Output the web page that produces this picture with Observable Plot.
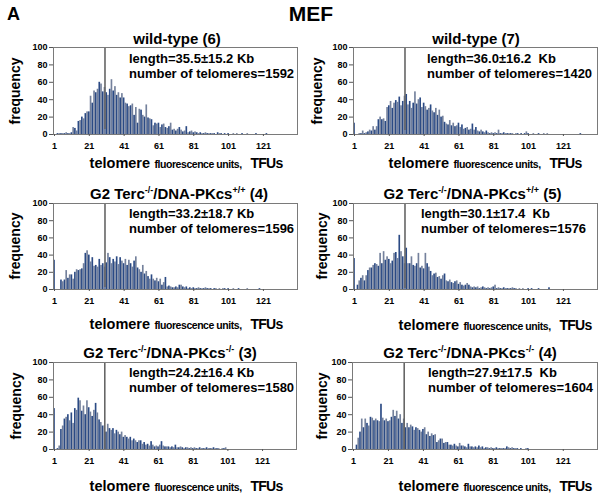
<!DOCTYPE html>
<html><head><meta charset="utf-8">
<script src="https://cdn.jsdelivr.net/npm/d3@7"></script>
<script src="https://cdn.jsdelivr.net/npm/@observablehq/plot@0.6"></script>
<style>
body{margin:0;background:#fff;}
#fig{position:relative;width:603px;height:498px;font-family:"Liberation Sans",Arial,sans-serif;font-weight:bold;color:#000;overflow:hidden;background:#fff}
.t{position:absolute;white-space:pre;line-height:1}
sup{font-size:9px;vertical-align:6px;line-height:0}
</style></head><body><div id="fig"></div><script>
// ---- data ----
const xTickLabels = [1, 21, 41, 61, 81, 101, 121];
const yTickLabels = [0, 20, 40, 60, 80, 100];
const meanTFU = [30, 30, 30, 30, 30, 30];
const panelTitles = [
  "wild-type (6)",
  "wild-type (7)",
  "G2 Terc<sup>-/-</sup>/DNA-PKcs<sup>+/+</sup> (4)",
  "G2 Terc<sup>-/-</sup>/DNA-PKcs<sup>+/+</sup> (5)",
  "G2 Terc<sup>-/-</sup>/DNA-PKcs<sup>-/-</sup> (3)",
  "G2 Terc<sup>-/-</sup>/DNA-PKcs<sup>-/-</sup> (4)"
];
const lengthText = ["35.5±15.2 Kb", "36.0±16.2  Kb", "33.2±18.7 Kb", "30.1±17.4  Kb", "24.2±16.4 Kb", "27.9±17.5  Kb"];
const telomereCounts = [1592, 1420, 1596, 1576, 1580, 1604];

const wt6 = [
  0,0,1,1,1,1,1,2,1,1,
  2,8,7,4,15,16,20,18,24,26,
  26,44,36,50,48,52,60,58,49,54,
  48,45,52,63,50,55,45,48,42,47,
  42,36,35,32,33,35,22,31,13,29,
  28,22,20,34,19,18,17,10,13,12,
  13,8,11,12,8,7,9,13,5,6,
  4,6,8,5,3,4,9,2,3,4,
  2,3,2,1,2,1,1,2,1,1,
  1,1,1,0,2,1,1,0,1,0,
  1,0,0,1,0,1,0,0,1,0,
  0,1,0,0,0,0,1,0,0,0,
  0,0,1,0,0,0,0,0,0,0,
  0,0,0,0,0,0,0,0,0,0];
const wt7 = [
  13,0,0,1,1,4,1,2,3,5,
  4,9,5,9,17,20,17,18,15,31,
  33,38,30,36,39,37,43,33,38,44,
  46,34,38,30,36,49,35,40,42,31,
  36,32,28,30,34,27,25,30,22,28,
  20,21,14,12,11,16,10,13,9,10,
  13,8,11,6,7,8,5,6,12,5,
  8,4,3,5,3,2,4,2,1,2,
  1,2,1,5,1,1,2,1,1,1,
  1,1,0,1,1,0,1,0,1,3,
  1,0,0,1,0,0,1,0,0,1,
  0,1,0,0,0,0,0,0,0,0,
  0,0,0,0,0,0,0,0,0,0,
  1,0,0,0,0,0,0,0,0,0];
const g2pp4 = [
  34,0,0,0,11,9,11,22,13,17,
  17,12,20,23,22,23,24,30,42,45,
  40,32,37,27,28,26,35,28,30,26,
  31,42,37,30,35,32,38,29,37,33,
  30,35,28,34,30,26,33,38,25,23,
  20,28,18,21,15,12,17,12,10,13,
  9,12,5,8,14,3,4,3,2,2,
  3,2,5,5,3,2,3,1,2,1,
  2,1,1,2,1,1,1,2,1,1,
  1,0,1,1,0,1,0,1,1,0,
  1,0,0,1,0,0,1,0,0,0,
  0,1,0,0,0,0,0,0,1,0,
  0,0,0,0,0,0,0,0,0,0,
  0,0,0,0,0,0,0,0,0,0];
const g2pp5 = [
  36,0,5,10,13,16,10,16,22,25,
  25,28,30,29,27,42,30,44,34,38,
  35,30,33,42,43,36,63,44,38,30,
  48,30,30,38,28,27,30,42,25,27,
  24,42,30,26,21,16,18,19,14,15,
  12,16,18,10,9,11,8,7,9,10,
  6,8,5,4,5,7,5,3,2,3,
  2,3,1,2,3,2,1,2,1,2,
  3,5,1,2,1,1,2,1,1,1,
  1,2,1,1,0,1,0,1,0,0,
  1,0,1,0,0,0,1,0,0,0,
  0,0,2,0,0,0,0,0,0,0,
  0,0,0,0,0,0,0,0,0,0,
  0,0,0,0,0,0,0,0,0,0];
const g2mm3 = [
  47,0,1,4,23,27,35,37,40,33,
  42,30,47,45,59,56,44,50,40,56,
  48,43,38,45,53,42,34,31,27,27,
  20,29,24,22,24,18,22,20,17,20,
  14,16,14,12,14,10,12,10,8,10,
  10,6,8,5,6,4,9,5,3,4,
  3,5,9,4,3,3,3,2,3,2,
  5,2,2,3,2,1,2,2,1,2,
  1,2,1,1,2,1,1,1,2,1,
  1,1,2,1,1,1,0,1,1,2,
  0,0,0,0,0,0,0,0,0,0,
  0,0,0,0,0,0,0,0,0,0,
  0,0,0,0,0,0,0,0,0,0,
  0,0,0,0,0,0,0,0,0,0];
const g2mm4 = [
  0,0,5,13,20,35,25,35,30,27,
  37,36,33,35,33,32,52,36,33,35,
  32,33,37,45,38,44,35,40,30,35,
  25,30,25,28,26,22,25,24,22,20,
  23,25,17,20,15,18,16,17,8,10,
  12,12,7,8,8,5,5,4,6,4,
  3,7,4,4,3,2,6,3,3,2,
  3,2,4,2,3,1,2,2,1,2,
  1,1,2,1,1,1,1,1,3,2,
  1,2,1,1,1,0,1,0,0,1,
  1,0,0,0,0,0,0,0,0,0,
  0,0,0,0,0,0,0,0,0,0,
  0,0,0,0,0,0,0,0,0,0,
  0,0,0,0,0,0,0,0,0,0];
const seriesList = [wt6, wt7, g2pp4, g2pp5, g2mm3, g2mm4];

// ---- layout (positions only) ----
const layout = [
  {x:0,   w:300, fl:53,  fr:297, ft:47,  fb:134, over:5, tc:[177,37.5],  ax:129, ay:[57.5,72.5],  yl:15,  xl:[186,163]},
  {x:300, w:303, fl:353, fr:597, ft:47,  fb:134, over:4, tc:[476,37.5],  ax:427, ay:[57.5,72.5],  yl:317, xl:[485,162.5]},
  {x:0,   w:300, fl:53,  fr:297, ft:203, fb:289, over:2, tc:[179,192.5], ax:129, ay:[212.5,227.5], yl:15,  xl:[186,324]},
  {x:300, w:303, fl:353, fr:597, ft:203, fb:289, over:1, tc:[472.5,192.5], ax:421, ay:[212.5,227.5], yl:322, xl:[495,325]},
  {x:0,   w:300, fl:53,  fr:296, ft:362, fb:449, over:0, tc:[170,352],   ax:129, ay:[372,387],    yl:15.5, xl:[186,486]},
  {x:300, w:303, fl:352, fr:597, ft:362, fb:449, over:0, tc:[470,352],   ax:428, ay:[372,387],    yl:322, xl:[495,486]}
];

const fig = document.getElementById("fig");
function addText(html, css) {
  const el = document.createElement("div");
  el.className = "t";
  el.innerHTML = html;
  Object.assign(el.style, css);
  fig.appendChild(el);
  return el;
}

addText("A", {left:"7px", top:"13.5px", fontSize:"18px", transform:"translateY(-50%)"});
addText("MEF", {left:"311px", top:"12.5px", fontSize:"21px", transform:"translate(-50%,-50%)"});

const categories = seriesList[0].map((_, i) => i + 1);
const blue = "#2b4a84", grey = "#74819c";

seriesList.forEach((values, k) => {
  const L = layout[k];
  const data = values.map((v, i) => ({c: categories[i], v}));
  const mt = 8, mb = 24;
  const fh = L.fb - L.ft;
  const svg = Plot.plot({
    width: L.w,
    height: fh + mt + mb,
    marginLeft: L.fl - L.x,
    marginRight: L.x + L.w - L.fr,
    marginTop: mt,
    marginBottom: mb,
    x: {type: "band", domain: categories, paddingInner: 0.05, paddingOuter: 0.1},
    y: {domain: [0, 100]},
    color: {type: "identity"},
    style: {fontFamily: "'Liberation Sans', Arial, sans-serif", fontWeight: "bold", background: "transparent", overflow: "visible", color: "#000"},
    marks: [
      Plot.barY(data, {x: "c", y: "v", fill: d => (d.c % 2 ? blue : grey)}),
      Plot.ruleX([meanTFU[k]], {x: d => d, y1: 0, y2: 100, insetTop: -L.over, stroke: "#666", strokeWidth: 1.6}),
      Plot.frame({stroke: "#7a7a7a", strokeWidth: 1}),
      Plot.axisY({ticks: yTickLabels, tickSize: 4, tickPadding: 2, fontSize: 9, label: null, stroke: "#555"}),
      Plot.axisX({ticks: xTickLabels, tickSize: 2, tickPadding: 6, fontSize: 9, label: null, stroke: "#555"})
    ]
  });
  svg.style.position = "absolute";
  svg.style.left = L.x + "px";
  svg.style.top = (L.ft - mt) + "px";
  fig.appendChild(svg);

  addText(panelTitles[k], {left: L.tc[0] + "px", top: L.tc[1] + "px", fontSize: "15px", transform: "translate(-50%,-50%)"});
  addText("length=" + lengthText[k], {left: L.ax + "px", top: L.ay[0] + "px", fontSize: "13px", transform: "translateY(-50%)"});
  addText("number of telomeres=" + telomereCounts[k], {left: L.ax + "px", top: L.ay[1] + "px", fontSize: "13px", transform: "translateY(-50%)"});
  addText("frequency", {left: L.yl + "px", top: ((L.ft + L.fb) / 2) + "px", fontSize: "14px", transform: "translate(-50%,-50%) rotate(-90deg)"});
  addText('<span style="font-size:14.5px">telomere</span> <span style="font-size:10.5px;letter-spacing:-0.45px">fluorescence units,</span>  <span style="font-size:14px;letter-spacing:-0.8px">TFUs</span>',
    {left: L.xl[0] + "px", top: L.xl[1] + "px", transform: "translate(-50%,-50%)"});
});
</script></body></html>
